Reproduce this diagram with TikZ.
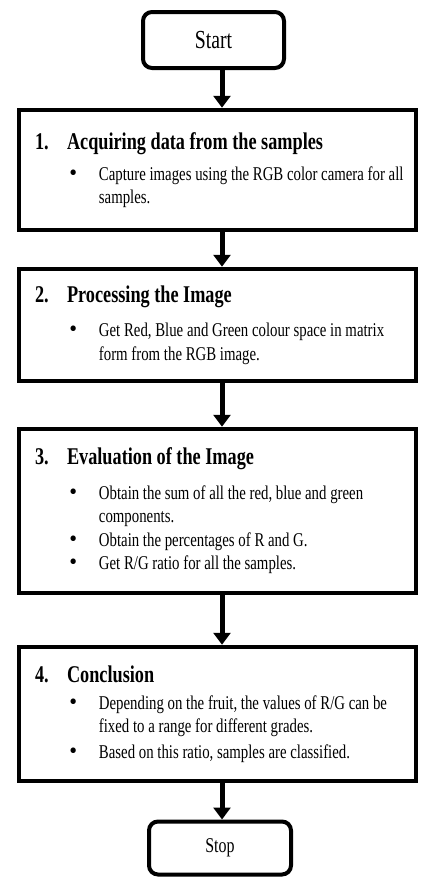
\documentclass[tikz,border=0pt]{standalone}
\usepackage{fontspec}
\usepackage{graphicx}
\setmainfont{Liberation Serif}
\usetikzlibrary{arrows.meta}
\newcommand{\narrow}[1]{\scalebox{0.76}[1]{#1}}
\newcommand{\stepcontent}[1]{\narrow{\parbox{480pt}{\raggedright\fontsize{19.5}{23.5}\selectfont #1}}}
\newcommand{\stephead}[2]{{\fontsize{24}{24}\selectfont\bfseries\makebox[42pt][l]{#1}#2}}
\newcommand{\stepitem}[1]{\hspace*{45pt}\makebox[39pt][l]{\scalebox{1.5}[1.2]{\textbullet}}\mbox{#1}}
\newcommand{\stepmore}[1]{\hspace*{84pt}\mbox{#1}}
\begin{document}
\begin{tikzpicture}[x=1pt,y=-1pt,
  term/.style={draw,line width=4pt,rounded corners=9pt,inner sep=0pt},
  stepbox/.style={draw,line width=4.5pt,minimum width=397pt,inner sep=0pt},
  flow/.style={line width=5pt,-{Triangle[width=17pt,length=12pt]}}]
\useasboundingbox (0,0) rectangle (421,878);
\coordinate (axis) at (222,0);
\node[term,minimum width=141pt,minimum height=56pt,font=\fontsize{26}{28}\selectfont] (start) at (213.5,40) {\narrow{Start}};
\node[stepbox,minimum height=120pt] (acquire) at (217.5,170) {\stepcontent{\stephead{1.}{Acquiring data from the samples}\\[8pt]
\stepitem{Capture images using the RGB color camera for all}\\[-1pt]
\stepmore{samples.}}};
\node[stepbox,minimum height=112pt] (process) at (217.5,325) {\stepcontent{\stephead{2.}{Processing the Image}\\[11pt]
\stepitem{Get Red, Blue and Green colour space in matrix}\\
\stepmore{form from the RGB image.}}};
\node[stepbox,minimum height=164pt] (evaluate) at (217.5,511) {\stepcontent{\stephead{3.}{Evaluation of the Image}\\[11pt]
\stepitem{Obtain the sum of all the red, blue and green}\\
\stepmore{components.}\\
\stepitem{Obtain the percentages of R and G.}\\
\stepitem{Get R/G ratio for all the samples.}}};
\node[stepbox,minimum height=134pt] (conclude) at (217.5,714) {\stepcontent{\stephead{4.}{Conclusion}\\[3pt]
\stepitem{Depending on the fruit, the values of R/G can be}\\
\stepmore{fixed to a range for different grades.}\\[2pt]
\stepitem{Based on this ratio, samples are classified.}}};
\node[term,minimum width=142pt,minimum height=53pt,font=\fontsize{21}{23}\selectfont] (stop) at (220,848) {\narrow{Stop}};
\draw[flow] (start.south -| axis) -- (acquire.north -| axis);
\draw[flow] (acquire.south -| axis) -- (process.north -| axis);
\draw[flow] (process.south -| axis) -- (evaluate.north -| axis);
\draw[flow] (evaluate.south -| axis) -- (conclude.north -| axis);
\draw[flow] (conclude.south -| axis) -- (stop.north -| axis);
\end{tikzpicture}
\end{document}
